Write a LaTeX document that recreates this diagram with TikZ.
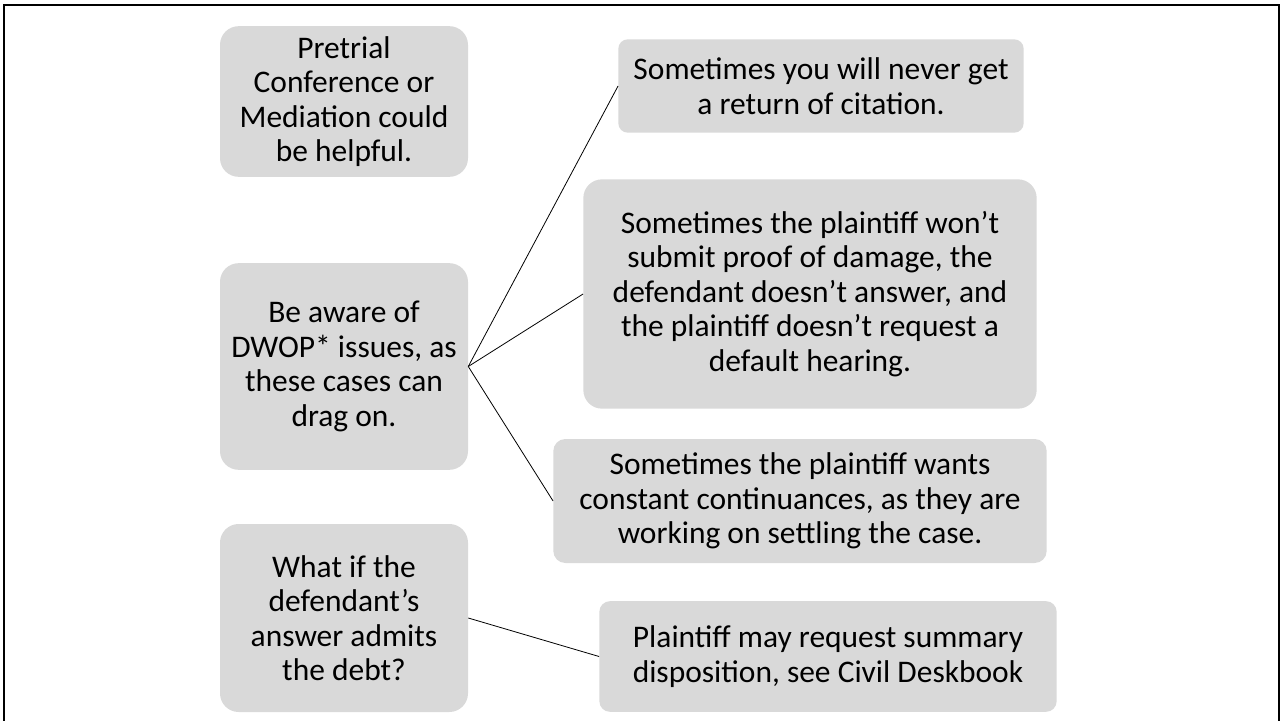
\documentclass[tikz,border=0pt]{standalone}
\usepackage{fontspec}
\setmainfont{Carlito}
\usetikzlibrary{positioning}

\definecolor{boxgray}{HTML}{D9D9D9}
\tikzset{
  card/.style={fill=boxgray, rounded corners=#1, align=center, inner sep=0pt,
    font=\fontsize{23.6}{25.8}\selectfont},
  card/.default=8pt,
  link/.style={draw=black, line width=0.6pt},
}

\begin{document}
\begin{tikzpicture}[x=0.75pt, y=-0.75pt]
\useasboundingbox (0,0) rectangle (1282,721);
\draw[line width=2pt] (4,5) rectangle (1279,730);

% left column
\node (pre)    [card=14pt, minimum width=186pt, minimum height=113pt] at (344,101.5)
  {Pretrial\\Conference or\\Mediation could\\be helpful.};
\node (dwop)   [card=14pt, minimum width=186pt, minimum height=155pt] at (344,366.5)
  {Be aware of\\DWOP* issues, as\\these cases can\\drag on.};
\node (whatif) [card=14pt, minimum width=186pt, minimum height=141pt] at (344,618)
  {What if the\\defendant’s\\answer admits\\the debt?};

% right column
\node (never)  [card=7pt,  minimum width=304pt, minimum height=70pt]  at (821,86)
  {Sometimes you will never get\\a return of citation.};
\node (wont)   [card=14pt, minimum width=340pt, minimum height=172pt] at (810,294)
  {Sometimes the plaintiff won’t\\submit proof of damage, the\\defendant doesn’t answer, and\\the plaintiff doesn’t request a\\default hearing.};
\node (const)  [card=9pt,  minimum width=370pt, minimum height=93pt]  at (800,501)
  {Sometimes the plaintiff wants\\constant continuances, as they are\\working on settling the case.};
\node (summ)   [card=8pt,  minimum width=343pt, minimum height=83pt]  at (828,656.5)
  {Plaintiff may request summary\\disposition, see Civil Deskbook};

\draw[link] (dwop.east) -- (never.west);
\draw[link] (dwop.east) -- (wont.west);
\draw[link] (dwop.east) -- (const.west);
\draw[link] (whatif.east) -- (summ.west);
\end{tikzpicture}
\end{document}
